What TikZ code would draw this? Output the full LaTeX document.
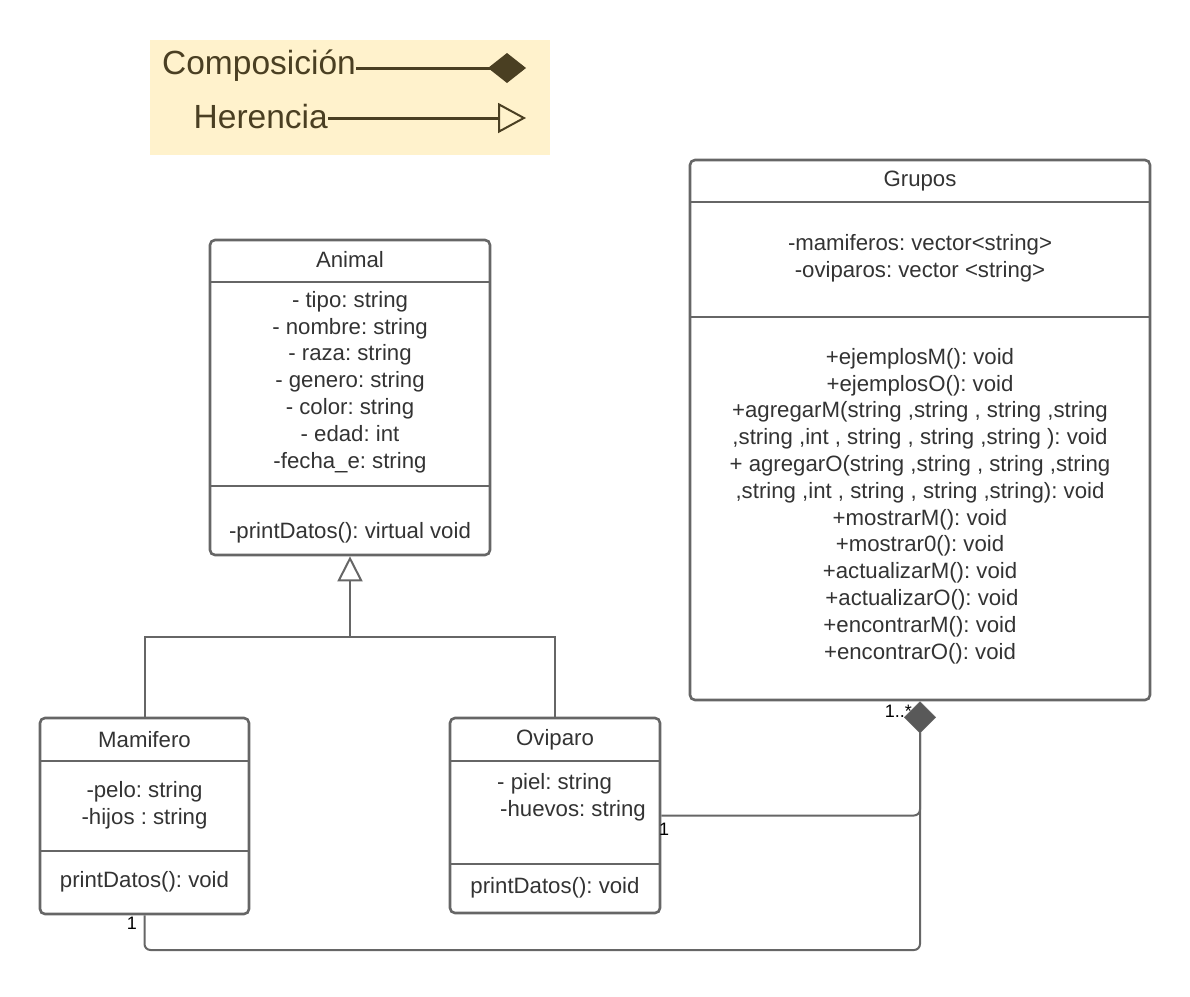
\documentclass[tikz,border=0pt]{standalone}
\usepackage{fontspec}
\setmainfont{Liberation Sans}
\usetikzlibrary{arrows.meta}
\definecolor{edge}{HTML}{666666}
\definecolor{txt}{HTML}{333333}
\definecolor{legbg}{HTML}{FFF2CC}
\definecolor{legfg}{HTML}{4A3F22}
\definecolor{dia}{HTML}{595959}
\frenchspacing
\begin{document}
\begin{tikzpicture}[x=1pt,y=-1pt,
  umlbox/.style={draw=edge, line width=2.6pt, rounded corners=5pt, fill=white, inner sep=0pt},
  sep/.style={draw=edge, line width=2.6pt},
  body/.style={text=txt, align=center, font=\fontsize{22.2}{26.8}\selectfont, inner sep=0pt},
  conn/.style={draw=edge, line width=2pt},
  mult/.style={text=black, font=\fontsize{18}{18}\selectfont, inner sep=0pt},
  legtxt/.style={text=legfg, font=\fontsize{33.5}{33.5}\selectfont, inner sep=0pt}
]
\useasboundingbox (0,0) rectangle (1190,996);

% Legend
\node[fill=legbg, minimum width=400pt, minimum height=115pt, inner sep=0pt] (legend) at (350,97.5) {};
\node[legtxt, anchor=east] (lcomp) at (356,66) {Composición};
\node[legtxt, anchor=east] (lher) at (328,117) {Herencia};
\coordinate (lcompend) at (526,68);
\coordinate (lherend) at (526,118);
\draw[draw=legfg, line width=3pt, -{Diamond[length=38pt,width=30pt,fill=legfg]}] (lcomp.east |- lcompend) -- (lcompend);
\draw[draw=legfg, line width=3pt, -{Triangle[open,length=28pt,width=30pt,line width=2pt,fill=legbg]}] (lher.east |- lherend) -- (lherend);

% Animal
\node[umlbox, minimum width=280pt, minimum height=315pt] (animal) at (350,397.5) {};
\draw[sep] (210,282) -- (490,282);
\draw[sep] (210,486) -- (490,486);
\node[body] (animalT) at (350,260) {Animal};
\node[body] (animalA) at (350,382) {- tipo: string\\- nombre: string\\- raza: string\\- genero: string\\- color: string\\- edad: int\\-fecha\_e: string};
\node[body] (animalM) at (350,532.5) {-printDatos(): virtual void};

% Grupos
\node[umlbox, minimum width=460pt, minimum height=540pt] (grupos) at (920,430) {};
\draw[sep] (690,202) -- (1150,202);
\draw[sep] (690,317) -- (1150,317);
\node[body] (gruposT) at (920,181.5) {Grupos};
\node[body] (gruposA) at (920,258) {-mamiferos: vector<string>\\-oviparos: vector <string>};
\node[body] (gruposM) at (920,506) {+ejemplosM(): void\\+ejemplosO(): void\\+agregarM(string ,string , string ,string\\,string ,int , string , string ,string ): void\\+ agregarO(string ,string , string ,string\\,string ,int , string , string ,string): void\\+mostrarM(): void\\+mostrar0(): void\\+actualizarM(): void\\\hspace*{4pt}+actualizarO(): void\\+encontrarM(): void\\+encontrarO(): void};

% Mamifero
\node[umlbox, minimum width=209pt, minimum height=196pt] (mam) at (144.5,816) {};
\draw[sep] (40,761) -- (249,761);
\draw[sep] (40,851) -- (249,851);
\node[body] (mamT) at (144.5,739.5) {Mamifero};
\node[body] (mamA) at (144.5,805) {-pelo: string\\-hijos : string};
\node[body] (mamM) at (144.5,881.5) {printDatos(): void};

% Oviparo
\node[umlbox, minimum width=210pt, minimum height=195pt] (ovi) at (555,815.5) {};
\draw[sep] (450,761) -- (660,761);
\draw[sep] (450,864) -- (660,864);
\node[body] (oviT) at (555,739.5) {Oviparo};
\node[body, align=left, anchor=west] (oviA) at (497,797.5) {- piel: string\\\hspace*{3pt}-huevos: string};
\node[body] (oviM) at (555,887.5) {printDatos(): void};

% Inheritance
\coordinate (join) at (350,637);
\draw[conn] (mam.north) |- (join) -| (ovi.north);
\draw[conn, -{Triangle[open,length=25pt,width=25pt,line width=2pt,fill=white]}] (join) -- (animal.south);

% Composition
\coordinate (cbot) at (920,950);
\draw[conn, rounded corners=6pt, -{Diamond[length=32pt,width=32pt,fill=dia,line width=0.5pt]}] (ovi.east) -| (grupos.south);
\draw[conn, rounded corners=6pt] (mam.south) |- (cbot) -- (920,733);
\node[mult, anchor=east] (m1) at (912,711) {1..*};
\node[mult, anchor=west] (m2) at (659,829) {1};
\node[mult, anchor=east] (m3) at (137,923) {1};
\end{tikzpicture}
\end{document}
